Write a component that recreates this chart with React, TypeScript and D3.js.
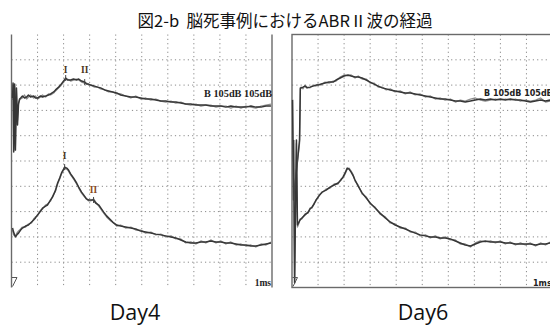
import React from "react";
import * as d3 from "d3";

type Pt = [number, number];

// time in ms (0..10), amplitude in screen divisions (0..10)
const day4UpperA: Pt[] = [[0.04,7.49],[0.06,8.08],[0.085,5.36],[0.12,8.04],[0.15,5.43],[0.19,7.89],[0.23,6.42],[0.27,7.25],[0.31,7.45],[0.35,7.49],[0.42,7.57],[0.5,7.49],[0.58,7.53],[0.65,7.61],[0.73,7.53],[0.85,7.57],[0.92,7.49],[1.0,7.49],[1.12,7.57],[1.19,7.53],[1.31,7.57],[1.42,7.61],[1.5,7.65],[1.62,7.73],[1.69,7.81],[1.81,7.92],[1.88,8.00],[2.0,8.16],[2.08,8.28],[2.15,8.20],[2.27,8.20],[2.38,8.24],[2.5,8.20],[2.58,8.24],[2.69,8.16],[2.81,8.12],[2.88,8.04],[2.96,8.04],[3.04,8.00],[3.19,7.96],[3.31,7.92],[3.42,7.89],[3.58,7.81],[3.73,7.77],[3.88,7.73],[4.04,7.69],[4.19,7.61],[4.38,7.57],[4.58,7.53],[4.77,7.53],[4.96,7.49],[5.15,7.45],[5.35,7.45],[5.54,7.41],[5.73,7.37],[5.92,7.37],[6.12,7.33],[6.31,7.33],[6.5,7.29],[6.69,7.25],[6.88,7.25],[7.08,7.21],[7.27,7.21],[7.46,7.21],[7.65,7.17],[7.85,7.17],[8.04,7.17],[8.23,7.13],[8.42,7.17],[8.62,7.13],[8.81,7.13],[9.0,7.13],[9.19,7.17],[9.38,7.13],[9.58,7.13],[9.77,7.17],[9.96,7.17]];
const day4UpperB: Pt[] = [[0.04,7.41],[0.06,8.0],[0.085,5.5],[0.12,7.96],[0.15,5.6],[0.19,7.8],[0.23,6.6],[0.27,7.3],[0.31,7.41],[0.35,7.45],[0.42,7.49],[0.5,7.61],[0.58,7.45],[0.65,7.53],[0.73,7.61],[0.85,7.49],[0.92,7.57],[1.0,7.45],[1.12,7.53],[1.19,7.61],[1.31,7.53],[1.42,7.65],[1.5,7.61],[1.62,7.69],[1.69,7.77],[1.81,7.89],[1.88,7.96],[2.0,8.12],[2.08,8.24],[2.15,8.24],[2.27,8.16],[2.38,8.20],[2.5,8.24],[2.58,8.20],[2.69,8.12],[2.81,8.08],[2.88,8.08],[2.96,8.00],[3.04,8.00],[3.19,7.92],[3.31,7.92],[3.42,7.85],[3.58,7.81],[3.73,7.73],[3.88,7.73],[4.04,7.65],[4.19,7.65],[4.38,7.57],[4.58,7.49],[4.77,7.57],[4.96,7.45],[5.15,7.49],[5.35,7.41],[5.54,7.45],[5.73,7.37],[5.92,7.33],[6.12,7.37],[6.31,7.29],[6.5,7.33],[6.69,7.25],[6.88,7.21],[7.08,7.25],[7.27,7.17],[7.46,7.21],[7.65,7.21],[7.85,7.13],[8.04,7.17],[8.23,7.17],[8.42,7.09],[8.62,7.17],[8.81,7.09],[9.0,7.17],[9.19,7.13],[9.38,7.09],[9.58,7.17],[9.77,7.21],[9.96,7.25]];
const day4LowerA: Pt[] = [[0.04,2.35],[0.08,2.19],[0.15,2.00],[0.23,2.11],[0.27,2.15],[0.35,2.27],[0.42,2.35],[0.54,2.43],[0.65,2.47],[0.77,2.59],[0.85,2.67],[0.92,2.75],[1.0,2.87],[1.12,3.02],[1.19,3.14],[1.31,3.22],[1.38,3.26],[1.5,3.46],[1.58,3.58],[1.69,3.85],[1.77,4.13],[1.85,4.33],[1.92,4.53],[2.0,4.68],[2.04,4.76],[2.12,4.72],[2.19,4.64],[2.27,4.49],[2.38,4.33],[2.5,4.13],[2.58,3.97],[2.69,3.77],[2.77,3.66],[2.88,3.50],[2.96,3.46],[3.04,3.46],[3.15,3.46],[3.23,3.34],[3.35,3.26],[3.46,3.10],[3.54,2.98],[3.65,2.83],[3.81,2.67],[3.92,2.55],[4.04,2.47],[4.19,2.43],[4.38,2.39],[4.58,2.35],[4.77,2.31],[4.96,2.23],[5.15,2.19],[5.35,2.15],[5.54,2.11],[5.73,2.08],[5.92,2.04],[6.12,2.00],[6.31,1.96],[6.5,1.88],[6.69,1.80],[6.88,1.76],[7.08,1.76],[7.27,1.80],[7.46,1.80],[7.65,1.84],[7.85,1.80],[8.04,1.80],[8.23,1.76],[8.42,1.76],[8.62,1.72],[8.81,1.68],[9.0,1.68],[9.19,1.64],[9.38,1.64],[9.58,1.68],[9.77,1.72],[9.96,1.76]];
const day4LowerB: Pt[] = [[0.04,2.27],[0.08,2.08],[0.15,2.04],[0.23,2.19],[0.27,2.23],[0.35,2.31],[0.42,2.39],[0.54,2.39],[0.65,2.51],[0.77,2.55],[0.85,2.71],[0.92,2.79],[1.0,2.83],[1.12,3.06],[1.19,3.10],[1.31,3.26],[1.38,3.30],[1.5,3.42],[1.58,3.62],[1.69,3.81],[1.77,4.09],[1.85,4.29],[1.92,4.49],[2.0,4.64],[2.04,4.72],[2.12,4.68],[2.19,4.60],[2.27,4.45],[2.38,4.29],[2.5,4.09],[2.58,3.93],[2.69,3.73],[2.77,3.62],[2.88,3.50],[2.96,3.42],[3.04,3.42],[3.15,3.50],[3.23,3.38],[3.35,3.22],[3.46,3.06],[3.54,2.94],[3.65,2.79],[3.81,2.63],[3.92,2.55],[4.04,2.43],[4.19,2.47],[4.38,2.35],[4.58,2.39],[4.77,2.27],[4.96,2.27],[5.15,2.15],[5.35,2.19],[5.54,2.08],[5.73,2.11],[5.92,2.00],[6.12,2.04],[6.31,1.92],[6.5,1.92],[6.69,1.76],[6.88,1.80],[7.08,1.72],[7.27,1.84],[7.46,1.76],[7.65,1.88],[7.85,1.76],[8.04,1.84],[8.23,1.72],[8.42,1.80],[8.62,1.68],[8.81,1.72],[9.0,1.64],[9.19,1.68],[9.38,1.60],[9.58,1.72],[9.77,1.68],[9.96,1.80]];

const day6UpperA: Pt[] = [[0.02,7.41],[0.06,3.46],[0.29,5.83],[0.32,7.89],[0.35,7.89],[0.42,7.92],[0.5,7.96],[0.58,7.89],[0.69,7.92],[0.81,7.96],[0.92,8.00],[1.0,8.00],[1.12,8.04],[1.27,8.08],[1.42,8.12],[1.58,8.12],[1.69,8.20],[1.85,8.28],[2.0,8.36],[2.15,8.40],[2.27,8.36],[2.42,8.32],[2.54,8.32],[2.69,8.28],[2.85,8.20],[3.0,8.12],[3.15,8.04],[3.31,7.96],[3.46,7.89],[3.62,7.85],[3.77,7.81],[3.96,7.77],[4.15,7.73],[4.35,7.69],[4.54,7.69],[4.73,7.65],[4.92,7.61],[5.12,7.57],[5.31,7.53],[5.5,7.49],[5.69,7.45],[5.88,7.45],[6.08,7.41],[6.27,7.37],[6.46,7.37],[6.65,7.33],[6.85,7.37],[7.04,7.41],[7.23,7.45],[7.42,7.41],[7.62,7.45],[7.81,7.41],[8.0,7.45],[8.19,7.41],[8.38,7.45],[8.58,7.41],[8.77,7.41],[8.96,7.37],[9.15,7.33],[9.35,7.37],[9.54,7.41],[9.73,7.37],[9.92,7.41],[10.0,7.45]];
const day6UpperB: Pt[] = [[0.02,7.45],[0.06,3.6],[0.29,5.7],[0.32,7.85],[0.35,7.92],[0.42,7.85],[0.5,8.00],[0.58,7.92],[0.69,7.89],[0.81,8.00],[0.92,7.96],[1.0,8.04],[1.12,8.00],[1.27,8.12],[1.42,8.08],[1.58,8.16],[1.69,8.16],[1.85,8.32],[2.0,8.40],[2.15,8.36],[2.27,8.40],[2.42,8.28],[2.54,8.36],[2.69,8.24],[2.85,8.24],[3.0,8.08],[3.15,8.08],[3.31,7.92],[3.46,7.92],[3.62,7.81],[3.77,7.85],[3.96,7.73],[4.15,7.77],[4.35,7.65],[4.54,7.73],[4.73,7.61],[4.92,7.65],[5.12,7.53],[5.31,7.57],[5.5,7.45],[5.69,7.49],[5.88,7.41],[6.08,7.45],[6.27,7.33],[6.46,7.41],[6.65,7.37],[6.85,7.45],[7.04,7.49],[7.23,7.41],[7.42,7.37],[7.62,7.41],[7.81,7.45],[8.0,7.41],[8.19,7.45],[8.38,7.41],[8.58,7.45],[8.77,7.37],[8.96,7.41],[9.15,7.37],[9.35,7.41],[9.54,7.49],[9.73,7.33],[9.92,7.37],[10.0,7.41]];
const day6LowerA: Pt[] = [[0.06,5.83],[0.1,0.18],[0.17,5.83],[0.21,2.47],[0.27,2.59],[0.31,2.67],[0.38,2.75],[0.5,2.87],[0.62,2.98],[0.69,3.10],[0.77,3.18],[0.85,3.30],[0.92,3.46],[1.04,3.62],[1.15,3.77],[1.31,3.85],[1.46,3.97],[1.62,4.05],[1.77,4.13],[1.88,4.25],[1.96,4.37],[2.04,4.53],[2.12,4.72],[2.19,4.68],[2.27,4.56],[2.35,4.41],[2.42,4.25],[2.54,4.01],[2.69,3.74],[2.85,3.54],[3.0,3.34],[3.19,3.14],[3.38,2.94],[3.58,2.75],[3.77,2.59],[3.96,2.47],[4.15,2.39],[4.35,2.31],[4.54,2.23],[4.73,2.15],[4.92,2.08],[5.12,2.04],[5.31,2.00],[5.5,2.00],[5.69,1.96],[5.88,1.96],[6.08,1.92],[6.27,1.84],[6.46,1.76],[6.65,1.68],[6.85,1.64],[7.04,1.72],[7.23,1.80],[7.42,1.84],[7.62,1.80],[7.81,1.80],[8.0,1.80],[8.19,1.76],[8.38,1.76],[8.58,1.72],[8.77,1.72],[8.96,1.72],[9.15,1.72],[9.35,1.68],[9.54,1.72],[9.73,1.72],[9.92,1.76],[10.0,1.76]];
const day6LowerB: Pt[] = [[0.06,5.83],[0.1,0.3],[0.17,5.7],[0.21,2.39],[0.27,2.55],[0.31,2.71],[0.38,2.71],[0.5,2.91],[0.62,2.94],[0.69,3.14],[0.77,3.14],[0.85,3.34],[0.92,3.42],[1.04,3.66],[1.15,3.74],[1.31,3.89],[1.46,3.93],[1.62,4.09],[1.77,4.09],[1.88,4.29],[1.96,4.33],[2.04,4.49],[2.12,4.68],[2.19,4.72],[2.27,4.60],[2.35,4.45],[2.42,4.21],[2.54,4.05],[2.69,3.70],[2.85,3.58],[3.0,3.30],[3.19,3.18],[3.38,2.90],[3.58,2.79],[3.77,2.55],[3.96,2.51],[4.15,2.35],[4.35,2.35],[4.54,2.19],[4.73,2.19],[4.92,2.04],[5.12,2.08],[5.31,1.96],[5.5,2.04],[5.69,1.92],[5.88,2.00],[6.08,1.88],[6.27,1.88],[6.46,1.72],[6.65,1.72],[6.85,1.60],[7.04,1.76],[7.23,1.84],[7.42,1.80],[7.62,1.84],[7.81,1.76],[8.0,1.84],[8.19,1.72],[8.38,1.80],[8.58,1.68],[8.77,1.76],[8.96,1.68],[9.15,1.76],[9.35,1.64],[9.54,1.76],[9.73,1.68],[9.92,1.80],[10.0,1.72]];

// wave peak labels: [label, t, v (label anchor), peak v]
const day4PeakLabels: [string, number, number, number][] = [
  ["I", 2.08, 8.48, 8.28],
  ["II", 2.81, 8.48, 8.12],
  ["I", 2.04, 5.08, 4.76],
  ["II", 3.15, 3.74, 3.46],
];

const titleText = "図2-b  脳死事例におけるABRⅡ波の経過";
const panelNames = ["Day4", "Day6"];
const stimText = "B 105dB 105dB";
const scaleText = "1ms";
const divisions = d3.range(1, 10);

const W = 550, H = 327;
const TOP = 34.5, BOTTOM = 287.5, PW = 260.5;
const PANEL_LEFT = [11.5, 292];

function Panel({ idx, traces, labels }: { idx: number; traces: [Pt[], Pt[]][]; labels?: typeof day4PeakLabels }) {
  const left = PANEL_LEFT[idx];
  const x = d3.scaleLinear().domain([0, 10]).range([left, left + PW]);
  const y = d3.scaleLinear().domain([0, 10]).range([BOTTOM, TOP]);
  const line = d3.line<Pt>().x(d => x(d[0])).y(d => y(d[1]));
  const serif = idx === 0;
  return (
    <g>
      {divisions.map(d => (
        <line key={"v" + d} x1={x(d)} x2={x(d)} y1={TOP} y2={BOTTOM} stroke="#8a8a8a" strokeWidth={1} strokeDasharray="1.2,3.1" />
      ))}
      {divisions.map(d => (
        <line key={"h" + d} x1={left} x2={left + PW} y1={y(d)} y2={y(d)} stroke="#8a8a8a" strokeWidth={1} strokeDasharray="1.2,3.1" />
      ))}
      {idx === 0 ? (
        <g stroke="#6a6a6a" strokeWidth={1.4}>
          <line x1={x(0)} x2={x(0)} y1={TOP} y2={BOTTOM} />
          <line x1={x(10)} x2={x(10)} y1={TOP} y2={BOTTOM} />
        </g>
      ) : (
        <rect x={x(0)} y={TOP} width={PW} height={BOTTOM - TOP} fill="none" stroke="#6a6a6a" strokeWidth={1.4} />
      )}
      {traces.map(([a, b], i) => (
        <g key={i} fill="none" strokeLinejoin="round">
          <path d={line(b) || ""} stroke="#8c8c8c" strokeWidth={1.3} />
          <path d={line(a) || ""} stroke="#363636" strokeWidth={1.5} />
        </g>
      ))}
      {labels && labels.map(([t, tt, lv, pv], i) => (
        <g key={"l" + i}>
          <line x1={x(tt)} x2={x(tt)} y1={y(pv) - 3} y2={y(pv) + 3} stroke="#444" strokeWidth={1} />
          <text x={x(tt)} y={y(lv)} textAnchor="middle" fontFamily="Liberation Serif" fontWeight="bold" fontSize={9.5}
            fill={i === 3 ? "#8a4a1c" : "#4a3520"}>{t}</text>
        </g>
      ))}
      <path d={`M${x(0) + 0.5},${BOTTOM - 10} L${x(0) + 5.5},${BOTTOM - 10} L${x(0) + 1},${BOTTOM - 1}`} fill="none" stroke="#555" strokeWidth={1} />
      <text x={serif ? x(10) - 68 : x(0) + 192} y={serif ? 97 : 96} fontFamily={serif ? "Liberation Serif" : "DejaVu Sans"}
        fontWeight="bold" fontSize={serif ? 10.3 : 8} fill="#222" style={{ whiteSpace: "pre" }}>{stimText}</text>
      <text x={serif ? x(10) - 1 : x(0) + 241} y={BOTTOM - 1.5} textAnchor={serif ? "end" : "start"}
        fontFamily={serif ? "Liberation Serif" : "DejaVu Sans"} fontWeight="bold" fontSize={serif ? 9.5 : 8} fill="#222">{scaleText}</text>
    </g>
  );
}

export default function App() {
  return (
    <svg width={W} height={H} style={{ position: "absolute", left: 0, top: 0, background: "#fff" }}>
      <rect width={W} height={H} fill="#fff" />
      <text x={285} y={27} textAnchor="middle" fontFamily="Noto Sans CJK JP" fontSize={16.5} fill="#111" style={{ whiteSpace: "pre" }}>{titleText}</text>
      <Panel idx={0} traces={[[day4UpperA, day4UpperB], [day4LowerA, day4LowerB]]} labels={day4PeakLabels} />
      <Panel idx={1} traces={[[day6UpperA, day6UpperB], [day6LowerA, day6LowerB]]} />
      <text x={135} y={320} textAnchor="middle" fontFamily="Open Sans" fontSize={21.5} fill="#111">{panelNames[0]}</text>
      <text x={423} y={320} textAnchor="middle" fontFamily="Open Sans" fontSize={21.5} fill="#111">{panelNames[1]}</text>
    </svg>
  );
}
